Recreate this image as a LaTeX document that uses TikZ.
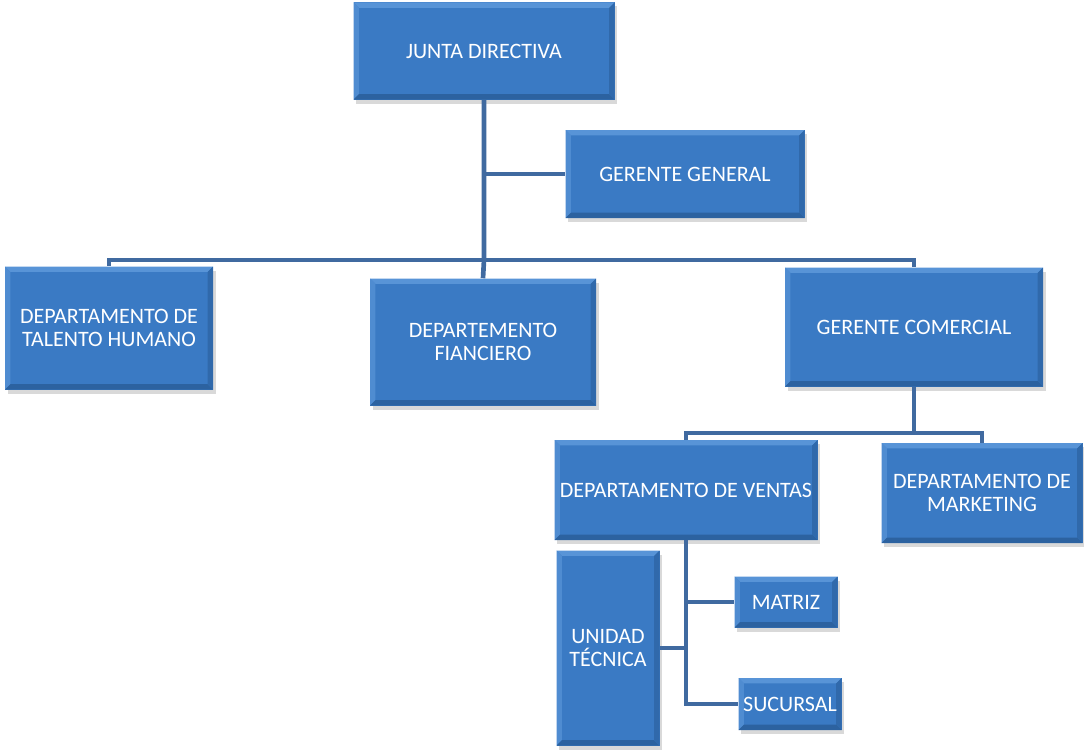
\documentclass[tikz,border=0pt]{standalone}
\usepackage{fontspec}
\setmainfont{Carlito}
\usetikzlibrary{shadows}

\definecolor{boxblue}{RGB}{58, 122, 196}
\definecolor{boxlight}{RGB}{88, 148, 215}
\definecolor{boxdark}{RGB}{44, 98, 160}
\definecolor{linkblue}{RGB}{64, 106, 160}

\begin{document}
\begin{tikzpicture}[
        x=0.75pt, y=-0.75pt,
        box/.style={fill=boxblue, align=center, text=white, inner sep=2pt,
          font=\fontsize{16.5}{17.5}\selectfont,
          drop shadow={opacity=0.3, shadow xshift=2pt, shadow yshift=-3pt},
          path picture={
            \fill[boxlight] (path picture bounding box.north west) -- (path picture bounding box.north east)
              -- ([xshift=-4pt,yshift=-4pt]path picture bounding box.north east) -- ([xshift=4pt,yshift=-4pt]path picture bounding box.north west) -- cycle;
            \fill[boxlight!70!boxblue] (path picture bounding box.north west) -- (path picture bounding box.south west)
              -- ([xshift=4pt,yshift=4pt]path picture bounding box.south west) -- ([xshift=4pt,yshift=-4pt]path picture bounding box.north west) -- cycle;
            \fill[boxdark] (path picture bounding box.south west) -- (path picture bounding box.south east)
              -- ([xshift=-4pt,yshift=4pt]path picture bounding box.south east) -- ([xshift=4pt,yshift=4pt]path picture bounding box.south west) -- cycle;
            \fill[boxdark!70!boxblue] (path picture bounding box.north east) -- (path picture bounding box.south east)
              -- ([xshift=-4pt,yshift=4pt]path picture bounding box.south east) -- ([xshift=-4pt,yshift=-4pt]path picture bounding box.north east) -- cycle;
          }},
        link/.style={draw=linkblue, line width=3.5pt}
      ]
        \useasboundingbox (0, 0) rectangle (1084, 749);

        \coordinate (bus) at (484, 260);
        \coordinate (split) at (914, 433);

        \node[box, minimum width=195.75pt, minimum height=72.75pt] (junta) at (484, 51) {JUNTA DIRECTIVA};
        \node[box, minimum width=179.25pt, minimum height=66pt] (general) at (685, 174) {GERENTE GENERAL};
        \node[box, minimum width=156pt, minimum height=92.25pt] (talento) at (109, 328) {DEPARTAMENTO DE\\TALENTO HUMANO};
        \node[box, minimum width=169.5pt, minimum height=95.25pt] (financiero) at (483, 342) {DEPARTEMENTO\\FIANCIERO};
        \node[box, minimum width=193.5pt, minimum height=89.25pt] (comercial) at (914, 327) {GERENTE COMERCIAL};
        \node[box, minimum width=197.25pt, minimum height=75pt] (ventas) at (686, 490) {DEPARTAMENTO DE VENTAS};
        \node[box, minimum width=150.75pt, minimum height=75pt] (marketing) at (982, 493) {DEPARTAMENTO DE\\MARKETING};
        \node[box, minimum width=77.25pt, minimum height=146.25pt] (tecnica) at (608, 648) {UNIDAD\\TÉCNICA};
        \node[box, minimum width=77.25pt, minimum height=38.25pt] (matriz) at (786, 602) {MATRIZ};
        \node[box, minimum width=77.25pt, minimum height=39pt] (sucursal) at (790, 704) {SUCURSAL};

        % connectors
        \draw[link] (junta.south) -- (bus) -- (financiero.north);
        \draw[link] (junta.south) |- (general.west);
        \draw[link] (talento.north) |- (bus) -| (comercial.north);
        \draw[link] (comercial.south) -- (split);
        \draw[link] (ventas.north) |- (split) -| (marketing.north);
        \draw[link] (ventas.south) |- (matriz.west);
        \draw[link] (ventas.south) |- (sucursal.west);
        \draw[link] (tecnica.east) -- (ventas.south |- tecnica.east);
      \end{tikzpicture}
\end{document}
